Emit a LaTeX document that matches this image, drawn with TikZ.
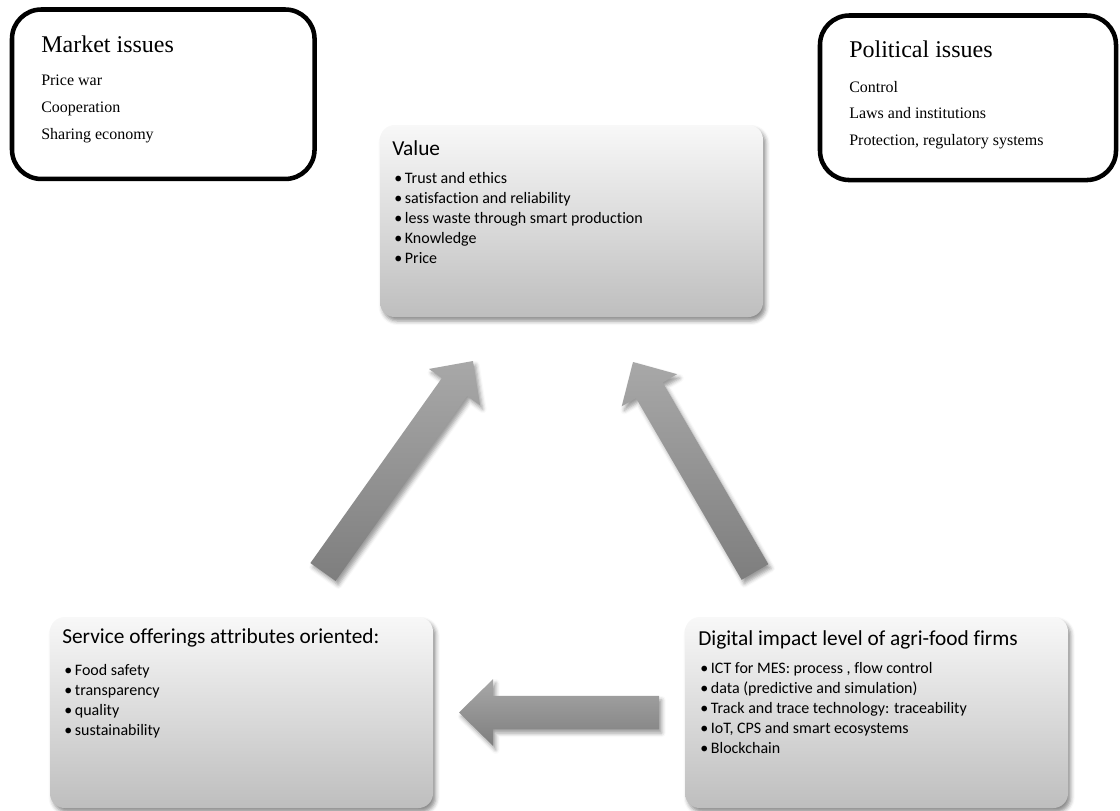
\documentclass[tikz,border=0pt]{standalone}
\usepackage{fontspec}
\setmainfont{Liberation Serif}
\newfontfamily\calibri[Ligatures=NoCommon]{Carlito}
\usetikzlibrary{calc,shadows.blur}

\definecolor{boxtop}{HTML}{F8F8F8}
\definecolor{boxbot}{HTML}{BEBEBE}
\definecolor{arrtop}{HTML}{A8A8A8}
\definecolor{arrbot}{HTML}{7E7E7E}

\newcommand{\itm}{\hspace*{1.5pt}•\hspace{2pt}}
% fat arrow: tail, tip, half shaft, half head, head length
\newcommand{\fatarrow}[5]{%
  \coordinate (hb) at ($(#2)!#5!(#1)$);
  \path[arrowshade] ($(#1)!#3!90:(#2)$) -- ($(hb)!#3!90:(#2)$) -- ($(hb)!#4!90:(#2)$)
    -- (#2) -- ($(hb)!#4!-90:(#2)$) -- ($(hb)!#3!-90:(#2)$) -- ($(#1)!#3!-90:(#2)$) -- cycle;
}

\tikzset{
  issuebox/.style = {draw=black, line width=3.4pt, rounded corners=22pt, fill=white,
                     anchor=north west, outer sep=0pt},
  greybox/.style  = {rounded corners=11pt, top color=boxtop, bottom color=boxbot,
                     anchor=north west, outer sep=0pt,
                     blur shadow={shadow xshift=2pt, shadow yshift=-3pt,
                                  shadow blur radius=3pt, shadow opacity=45}},
  arrowshade/.style = {top color=arrtop, bottom color=arrbot,
                     blur shadow={shadow xshift=2pt, shadow yshift=-3pt,
                                  shadow blur radius=3pt, shadow opacity=40}},
  txt/.style      = {inner sep=0pt, anchor=base west},
}

\begin{document}
\begin{tikzpicture}[x=0.75pt, y=-0.75pt]
\useasboundingbox (0,0) rectangle (1120,810);

% issues
\node[issuebox, minimum width=226.9pt, minimum height=127.1pt] (market) at (12,9.5) {};
\node[issuebox, minimum width=222pt, minimum height=123.4pt] (political) at (820,15.5) {};

\node[txt] (markettext) at ($(market.north west)+(29,42.5)$) {\begin{minipage}[t]{200pt}
  \fontsize{18}{22}\selectfont Market issues\par\vspace{4.15pt}
  \fontsize{12}{20.6}\selectfont Price war\par Cooperation\par Sharing economy\end{minipage}};
\node[txt] (politicaltext) at ($(political.north west)+(29,41.5)$) {\begin{minipage}[t]{200pt}
  \fontsize{18}{22}\selectfont Political issues\par\vspace{6.35pt}
  \fontsize{12}{19.9}\selectfont Control\par Laws and institutions\par Protection, regulatory systems\end{minipage}};

% grey boxes
\node[greybox, minimum width=287.25pt, minimum height=144pt] (value) at (380,125) {};
\node[greybox, minimum width=287.25pt, minimum height=143.25pt] (service) at (50,617) {};
\node[greybox, minimum width=287.25pt, minimum height=143.25pt] (digital) at (685,617) {};

\node[txt] (valuetext) at ($(value.north west)+(12,30)$) {\begin{minipage}[t]{270pt}\calibri
  \fontsize{16}{19}\selectfont Value\par\vspace{6pt}
  \fontsize{12}{15}\selectfont
  \itm Trust and ethics\par
  \itm satisfaction and reliability\par
  \itm less waste through smart production\par
  \itm Knowledge\par
  \itm Price\end{minipage}};
\node[txt] (servicetext) at ($(service.north west)+(12,26)$) {\begin{minipage}[t]{270pt}\calibri
  \fontsize{16}{19}\selectfont Service offerings attributes oriented:\par\vspace{9pt}
  \fontsize{12}{15}\selectfont
  \itm Food safety\par
  \itm transparency\par
  \itm quality\par
  \itm sustainability\end{minipage}};
\node[txt] (digitaltext) at ($(digital.north west)+(13,28)$) {\begin{minipage}[t]{270pt}\calibri
  \fontsize{16}{19}\selectfont Digital impact level of agri-food firms\par\vspace{6pt}
  \fontsize{12}{15}\selectfont
  \itm ICT for MES: process , flow control\par
  \itm data (predictive and simulation)\par
  \itm Track and trace technology: traceability\par
  \itm IoT, CPS and smart ecosystems\par
  \itm Blockchain\end{minipage}};

% arrows
\coordinate (svctail) at (323,572);
\coordinate (svctip)  at (473,361);
\coordinate (digtail) at (755,572);
\coordinate (digtip)  at (633,362);
\coordinate (bottail) at (659,712.5);
\coordinate (bottip)  at (459,712.5);
\fatarrow{svctail}{svctip}{11.6pt}{23.5pt}{24pt}
\fatarrow{digtail}{digtip}{11.6pt}{24pt}{24.5pt}
\fatarrow{bottail}{bottip}{12.4pt}{25pt}{25.5pt}
\end{tikzpicture}
\end{document}
